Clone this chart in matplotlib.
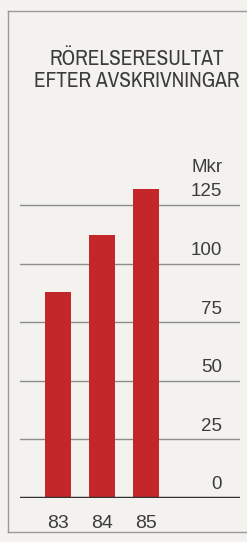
import matplotlib
matplotlib.use("Agg")
import matplotlib.pyplot as plt
from matplotlib.lines import Line2D
from matplotlib.transforms import offset_copy

# data
years = ["83", "84", "85"]
values = [88, 112, 132]
yticks = [0, 25, 50, 75, 100, 125]
title_lines = ["RÖRELSERESULTAT", "EFTER AVSKRIVNINGAR"]
unit = "Mkr"

bg = "#f3f2ee"
bar_color = "#c3272a"
text_color = "#3c3c3c"

fig = plt.figure(figsize=(2.47, 5.42), dpi=100)
fig.patch.set_facecolor(bg)

# frame around the panel (left, top, bottom)
W, H = 247.0, 542.0
fx = lambda px: px / W
fy = lambda py: 1 - py / H
frame = dict(color="#9a9a9a", lw=1.0, transform=fig.transFigure)
fig.add_artist(Line2D([fx(8), fx(8)], [fy(11), fy(532)], **frame))
fig.add_artist(Line2D([fx(8), 1], [fy(11), fy(11)], **frame))
fig.add_artist(Line2D([fx(8), 1], [fy(532), fy(532)], **frame))

# title
for i, line in enumerate(title_lines):
    fig.text(fx(137), fy(65 + 22 * i), line, ha="center", va="baseline",
             fontsize=15.3, color=text_color,
             family=["Archivo Narrow", "DejaVu Sans"])

ymax = 140
ax = fig.add_axes([fx(20), fy(498), fx(240) - fx(20), ymax * 2.344 / H])
ax.set_facecolor(bg)
x = list(range(len(years)))
ax.set_xlim(-0.864, 4.136)
ax.set_ylim(0, ymax)

for v in yticks[1:]:
    ax.axhline(v, color="#8c8c8c", lw=1.0, zorder=1)
ax.axhline(0, color="#333333", lw=2.5, zorder=3)

ax.bar(x, values, width=0.59, color=bar_color, zorder=2)

for s in ax.spines.values():
    s.set_visible(False)
ax.set_xticks([])
ax.set_yticks([])

# right-hand value labels sitting just above each gridline
lab_tr = offset_copy(ax.transData, fig=fig, x=0, y=6.2, units="points")
for v in yticks:
    ax.text(3.73, v, str(v), ha="right", va="baseline", fontsize=13.5,
            color=text_color, family="Liberation Sans", transform=lab_tr)
unit_tr = offset_copy(ax.transData, fig=fig, x=0, y=23.5, units="points")
ax.text(3.73, yticks[-1], unit, ha="right", va="baseline", fontsize=13.5,
        color=text_color, family="Liberation Sans", transform=unit_tr)

# year labels under the bars
yr_tr = offset_copy(ax.transData, fig=fig, x=0, y=-21.5, units="points")
for xi, yr in zip(x, years):
    ax.text(xi, 0, yr, ha="center", va="baseline", fontsize=14,
            color=text_color, family="Liberation Sans", transform=yr_tr)

fig.savefig("out.png", dpi=100, facecolor=bg)
